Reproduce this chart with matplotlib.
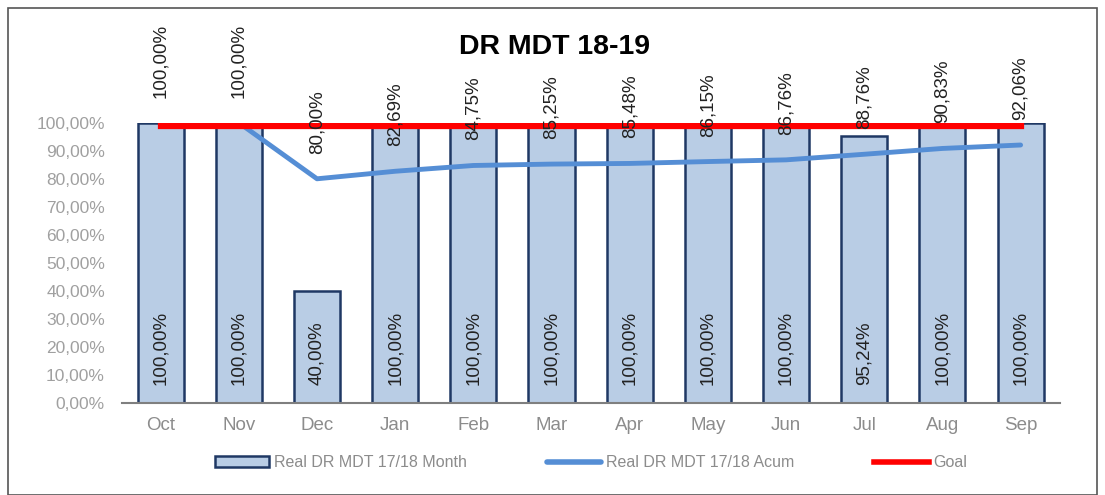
import matplotlib.pyplot as plt
from matplotlib.patches import Rectangle

plt.rcParams['font.family'] = ['Liberation Sans', 'DejaVu Sans']

# data
months = ['Oct', 'Nov', 'Dec', 'Jan', 'Feb', 'Mar', 'Apr', 'May', 'Jun', 'Jul', 'Aug', 'Sep']
month_pct = [100, 100, 40, 100, 100, 100, 100, 100, 100, 95.24, 100, 100]
acum_pct = [100, 100, 80, 82.69, 84.75, 85.25, 85.48, 86.15, 86.76, 88.76, 90.83, 92.06]
goal_pct = [99] * 12


def fmt(v):
    return f"{v:.2f}%".replace('.', ',')


fig = plt.figure(figsize=(11.05, 4.95), dpi=100)
ax = fig.add_axes([0.110, 0.186, 0.849, 0.566])

x = range(len(months))
bars = ax.bar(x, month_pct, width=0.59, color='#B9CDE5', edgecolor='#1F3864',
              linewidth=1.8, zorder=2, label='Real DR MDT 17/18 Month')
acum_line, = ax.plot(x, acum_pct, color='#558ED5', linewidth=3.5, zorder=3,
                     solid_capstyle='round', label='Real DR MDT 17/18 Acum')
goal_line, = ax.plot(x, goal_pct, color='#FF0000', linewidth=4.5, zorder=4, label='Goal')

# labels inside bars
for i, v in enumerate(month_pct):
    ax.text(i, 6.5, fmt(v), rotation=90, ha='center', va='bottom',
            fontsize=13.5, color='#222222', zorder=5)

# labels above the cumulative line
for i, v in enumerate(acum_pct):
    ax.annotate(fmt(v), (i, v), xytext=(0, 18), textcoords='offset points',
                rotation=90, ha='center', va='bottom', fontsize=13.5,
                color='#222222', annotation_clip=False, zorder=5)

ax.set_xlim(-0.5, 11.5)
ax.set_ylim(0, 100)
ax.set_yticks(range(0, 101, 10))
ax.set_yticklabels([fmt(t) for t in range(0, 101, 10)])
ax.set_xticks(list(x))
ax.set_xticklabels(months)
ax.tick_params(axis='y', length=0, labelsize=12.5, labelcolor='#A0A0A0', pad=12)
ax.tick_params(axis='x', length=0, labelsize=13.5, labelcolor='#8C8C8C', pad=10)
for s in ['top', 'right', 'left']:
    ax.spines[s].set_visible(False)
ax.spines['bottom'].set_color('#7F7F7F')
ax.spines['bottom'].set_linewidth(1.5)

fig.text(0.502, 0.905, 'DR MDT 18-19', ha='center', va='center',
         fontsize=20.5, fontweight='bold', color='black')

leg = fig.legend([bars, acum_line, goal_line],
                 ['Real DR MDT 17/18 Month', 'Real DR MDT 17/18 Acum', 'Goal'],
                 loc='center', bbox_to_anchor=(0.535, 0.065), ncol=3,
                 frameon=False, fontsize=11.5, handlelength=3.4,
                 handletextpad=0.3, columnspacing=5.0)
for t in leg.get_texts():
    t.set_color('#8C8C8C')
for h in leg.legend_handles[1:]:
    h.set_linewidth(4)

# outer frame
fig.patches.append(Rectangle((0.007, 0.0), 0.986, 0.984, transform=fig.transFigure,
                             fill=False, edgecolor='#555555', linewidth=1.2))

fig.savefig('out.png', dpi=100)
